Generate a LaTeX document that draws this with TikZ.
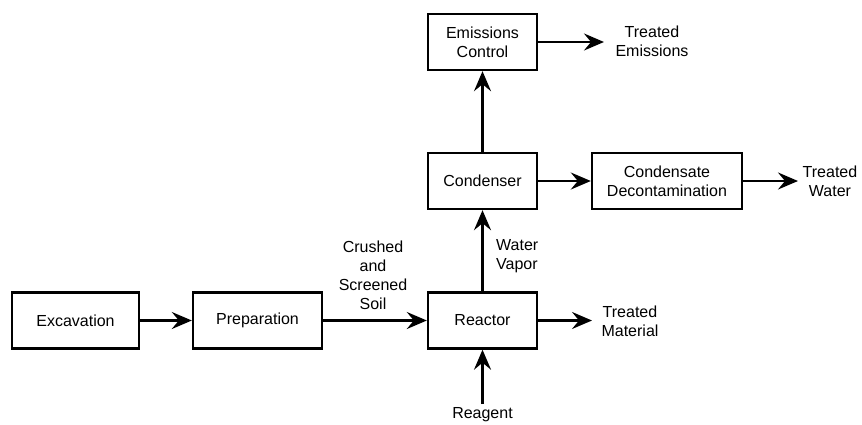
\documentclass[tikz,border=0pt]{standalone}
\usepackage{fontspec}
\setmainfont{Liberation Sans}
\usetikzlibrary{arrows.meta}
\begin{document}
\begin{tikzpicture}[x=1pt,y=-1pt,
  every node/.style={font=\fontsize{16}{19}\selectfont, inner sep=0pt},
  box/.style={draw, line width=2.4pt, align=center, minimum height=56pt},
  flow/.style={line width=2.4pt, -{Stealth[length=20pt,width=17pt,inset=7pt]}},
  lbl/.style={align=center}]
\useasboundingbox (0,0) rectangle (862,424);
\node[box, minimum width=127pt] (exc) at (75.5,320.5) {Excavation};
\node[box, minimum width=129pt] (prep) at (257.5,320.5) {Preparation};
\node[box, minimum width=109pt] (reac) at (482.5,320.5) {Reactor};
\node[box, minimum width=109pt] (cond) at (482.5,181) {Condenser};
\node[box, minimum width=109pt] (emis) at (482.5,42) {Emissions\\Control};
\node[box, minimum width=150pt] (deco) at (667,181) {Condensate\\Decontamination};

\node[lbl] (soil) at (373,275) {Crushed\\and\\Screened\\Soil};
\node[lbl, align=left, anchor=west] (vap) at (496,256) {Water\\Vapor};
\node[lbl] (tmat) at (630,321) {Treated\\Material};
\node[lbl] (tem) at (652,41.5) {Treated\\Emissions};
\node[lbl] (twat) at (830,181) {Treated\\Water};
\node[lbl] (reag) at (482.5,415) {Reagent};

\coordinate (tmatend) at (592,320.5);
\coordinate (temend) at (604,42);
\coordinate (twend) at (798,181);
\coordinate (reagstart) at (482.5,404);

\draw[flow] (exc) -- (prep);
\draw[flow] (prep) -- (reac);
\draw[flow] (reac) -- (cond);
\draw[flow] (cond) -- (emis);
\draw[flow] (cond) -- (deco);
\draw[flow] (reac.east) -- (tmatend);
\draw[flow] (emis.east) -- (temend);
\draw[flow] (deco.east) -- (twend);
\draw[flow] (reagstart) -- (reac.south);
\end{tikzpicture}
\end{document}
